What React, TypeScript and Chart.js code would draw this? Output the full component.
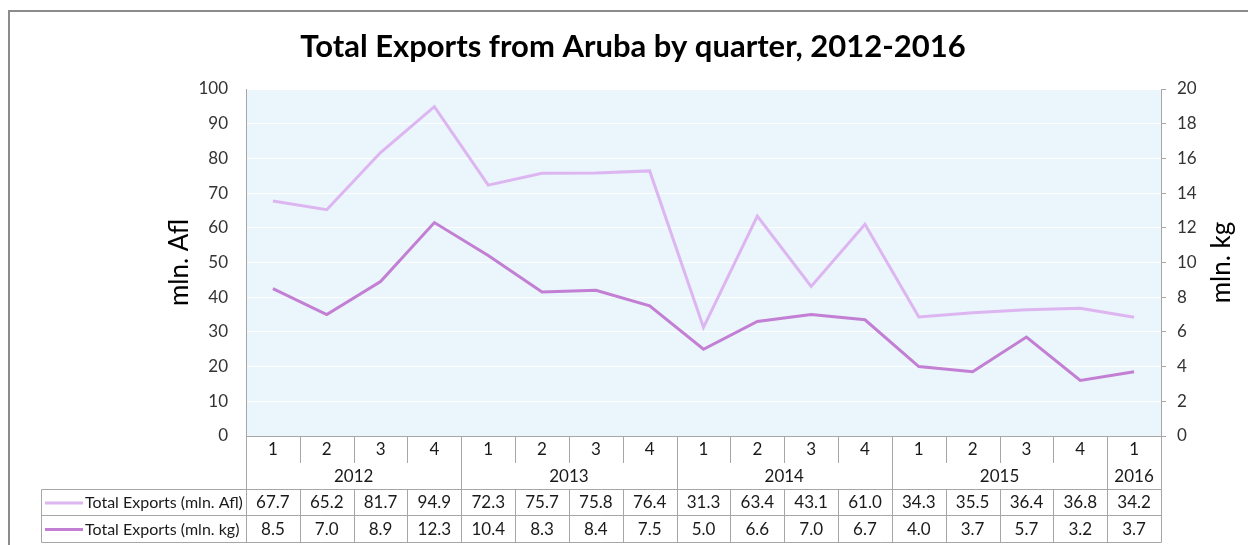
import React, { useEffect, useRef } from 'react';
import { Chart, registerables } from 'chart.js';

Chart.register(...registerables);

const TITLE = 'Total Exports from Aruba by quarter, 2012-2016';
const QUARTERS = ['1', '2', '3', '4', '1', '2', '3', '4', '1', '2', '3', '4', '1', '2', '3', '4', '1'];
const YEAR_LABELS = ['2012', '2013', '2014', '2015', '2016'];
const YEAR_SPANS = [4, 4, 4, 4, 1];
const SERIES_AFL_LABEL = 'Total Exports (mln. Afl)';
const SERIES_KG_LABEL = 'Total Exports (mln. kg)';
const EXPORTS_AFL = [67.7, 65.2, 81.7, 94.9, 72.3, 75.7, 75.8, 76.4, 31.3, 63.4, 43.1, 61.0, 34.3, 35.5, 36.4, 36.8, 34.2];
const EXPORTS_KG = [8.5, 7.0, 8.9, 12.3, 10.4, 8.3, 8.4, 7.5, 5.0, 6.6, 7.0, 6.7, 4.0, 3.7, 5.7, 3.2, 3.7];
const LEFT_AXIS_TITLE = 'mln. Afl';
const RIGHT_AXIS_TITLE = 'mln. kg';
const LEFT_MAX = 100;
const LEFT_STEP = 10;
const RIGHT_MAX = 20;
const RIGHT_STEP = 2;

const COLOR_AFL = '#DDB6F1';
const COLOR_KG = '#C27FD3';
const FONT = 'Lato, "Open Sans", sans-serif';
const LINE_GRAY = '#A6A6A6';

const W = 1248;
const H = 545;

const tablePlugin = {
  id: 'tablePlugin',
  beforeDraw(chart: any) {
    const { ctx, chartArea: a } = chart;
    ctx.save();
    ctx.fillStyle = '#EAF5FC';
    ctx.fillRect(a.left, a.top, a.right - a.left, a.bottom - a.top);
    ctx.restore();
  },
  afterDraw(chart: any) {
    const { ctx, chartArea: a } = chart;
    const n = QUARTERS.length;
    const cw = (a.right - a.left) / n;
    const bx = (i: number) => Math.round(a.left + i * cw) + 0.5;
    const cx = (i: number) => a.left + (i + 0.5) * cw;
    ctx.save();

    // frame
    ctx.strokeStyle = '#8C8C8C';
    ctx.lineWidth = 2;
    ctx.beginPath();
    ctx.moveTo(9, H);
    ctx.lineTo(9, 11);
    ctx.lineTo(W, 11);
    ctx.stroke();

    // title
    ctx.fillStyle = '#000';
    ctx.font = `bold 31px ${FONT}`;
    ctx.textAlign = 'center';
    ctx.textBaseline = 'middle';
    ctx.fillText(TITLE, 633, 47);

    // axis titles
    ctx.font = `26px ${FONT}`;
    ctx.save();
    ctx.translate(180, (a.top + a.bottom) / 2);
    ctx.rotate(-Math.PI / 2);
    ctx.fillText(LEFT_AXIS_TITLE, 0, 0);
    ctx.restore();
    ctx.save();
    ctx.translate(1222, (a.top + a.bottom) / 2);
    ctx.rotate(-Math.PI / 2);
    ctx.fillText(RIGHT_AXIS_TITLE, 0, 0);
    ctx.restore();

    const yQ = a.bottom;
    const yQsep = yQ + 27;
    const yYear = 489.5;
    const yR1 = 515.5;
    const yR2 = 542.5;
    const left = 41.5;

    ctx.strokeStyle = LINE_GRAY;
    ctx.lineWidth = 1;
    ctx.beginPath();
    // plot bottom line
    ctx.moveTo(a.left, Math.round(yQ) + 0.5);
    ctx.lineTo(a.right + 5, Math.round(yQ) + 0.5);
    // quarter separators
    for (let i = 1; i < n; i++) {
      ctx.moveTo(bx(i), yQ);
      ctx.lineTo(bx(i), yQsep);
    }
    // year boundaries
    let acc = 0;
    for (let k = 0; k <= YEAR_SPANS.length; k++) {
      ctx.moveTo(bx(acc), yQ);
      ctx.lineTo(bx(acc), yYear);
      if (k < YEAR_SPANS.length) acc += YEAR_SPANS[k];
    }
    // table lines
    [yYear, yR1, yR2].forEach((y) => {
      ctx.moveTo(left, y);
      ctx.lineTo(bx(n), y);
    });
    ctx.moveTo(left, yYear);
    ctx.lineTo(left, yR2);
    for (let i = 0; i <= n; i++) {
      ctx.moveTo(bx(i), yYear);
      ctx.lineTo(bx(i), yR2);
    }
    ctx.stroke();

    // texts
    ctx.fillStyle = '#1A1A1A';
    ctx.font = `17px ${FONT}`;
    ctx.textAlign = 'center';
    QUARTERS.forEach((q, i) => ctx.fillText(q, cx(i), 450));
    acc = 0;
    YEAR_LABELS.forEach((y, k) => {
      const mid = (acc + YEAR_SPANS[k] / 2) * cw + a.left;
      ctx.fillText(y, mid, 477);
      acc += YEAR_SPANS[k];
    });
    EXPORTS_AFL.forEach((v, i) => ctx.fillText(v.toFixed(1), cx(i), 503));
    EXPORTS_KG.forEach((v, i) => ctx.fillText(v.toFixed(1), cx(i), 529.5));

    // legend keys
    const rows = [
      { label: SERIES_AFL_LABEL, color: COLOR_AFL, y: 503 },
      { label: SERIES_KG_LABEL, color: COLOR_KG, y: 529.5 },
    ];
    rows.forEach((r) => {
      ctx.strokeStyle = r.color;
      ctx.lineWidth = 3;
      ctx.beginPath();
      ctx.moveTo(45, r.y);
      ctx.lineTo(83, r.y);
      ctx.stroke();
      ctx.fillStyle = '#1A1A1A';
      ctx.font = `16px ${FONT}`;
      ctx.textAlign = 'left';
      ctx.fillText(r.label, 85, r.y);
    });
    ctx.restore();
  },
};

export default function App() {
  const ref = useRef<HTMLCanvasElement>(null);
  useEffect(() => {
    document.body.style.margin = '0';
    const chart = new Chart(ref.current!, {
      type: 'line',
      data: {
        labels: QUARTERS.map((q, i) => `${i}-${q}`),
        datasets: [
          {
            label: SERIES_AFL_LABEL,
            data: EXPORTS_AFL,
            borderColor: COLOR_AFL,
            backgroundColor: COLOR_AFL,
            borderWidth: 3,
            pointRadius: 0,
            yAxisID: 'y',
            tension: 0,
          },
          {
            label: SERIES_KG_LABEL,
            data: EXPORTS_KG,
            borderColor: COLOR_KG,
            backgroundColor: COLOR_KG,
            borderWidth: 3,
            pointRadius: 0,
            yAxisID: 'y1',
            tension: 0,
          },
        ],
      },
      options: {
        animation: false,
        responsive: false,
        devicePixelRatio: 1,
        layout: { padding: { top: 89, bottom: H - 436, left: 160, right: 0 } },
        plugins: { legend: { display: false }, title: { display: false }, tooltip: { enabled: false } },
        scales: {
          x: { type: 'category', display: false, offset: true },
          y: {
            position: 'left',
            min: 0,
            max: LEFT_MAX,
            ticks: { stepSize: LEFT_STEP, padding: 18, color: '#333', font: { size: 17, family: FONT } },
            grid: { color: '#FFFFFF', lineWidth: 1, drawTicks: false },
            border: { display: true, color: LINE_GRAY },
            afterFit: (s: any) => { s.width = 246 - 160; },
          },
          y1: {
            position: 'right',
            min: 0,
            max: RIGHT_MAX,
            ticks: { stepSize: RIGHT_STEP, padding: 11, color: '#333', font: { size: 17, family: FONT } },
            grid: { drawOnChartArea: false, drawTicks: true, tickLength: 5, color: LINE_GRAY },
            border: { display: true, color: LINE_GRAY },
            afterFit: (s: any) => { s.width = W - 1161; },
          },
        },
      },
      plugins: [tablePlugin],
    } as any);
    return () => chart.destroy();
  }, []);
  return (
    <div style={{ width: W, height: H }}>
      <canvas ref={ref} width={W} height={H} />
    </div>
  );
}
